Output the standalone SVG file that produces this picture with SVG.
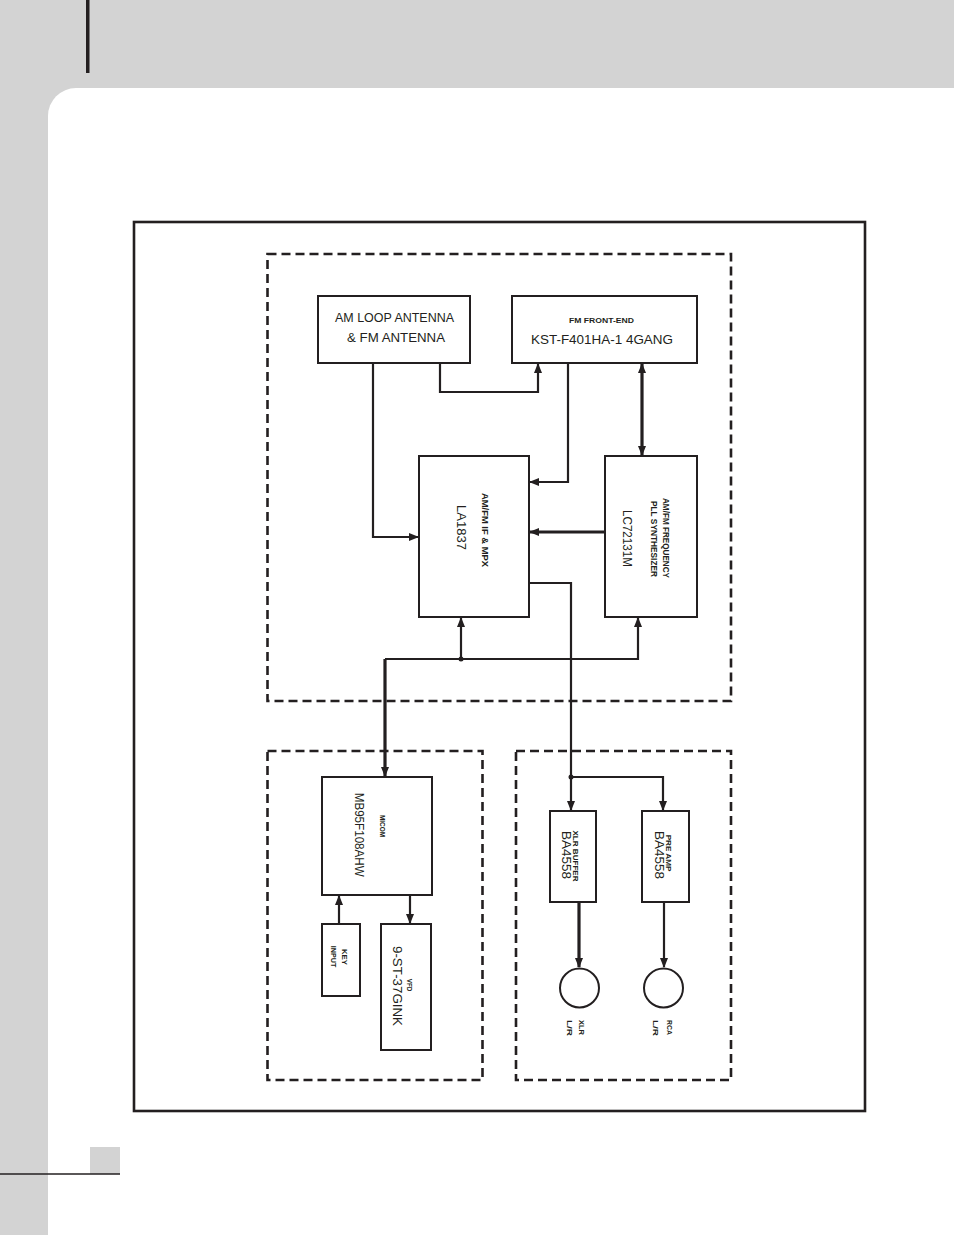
<svg xmlns="http://www.w3.org/2000/svg" width="954" height="1235" viewBox="0 0 954 1235">
<style>
.box{fill:#fff;stroke:#231f20;stroke-width:2}
.dash{fill:none;stroke:#231f20;stroke-width:2.6;stroke-dasharray:9 5}
.ln{fill:none;stroke:#231f20;stroke-width:2.2}
.thk{fill:none;stroke:#231f20;stroke-width:3.2}
.t{font-family:"Liberation Sans",Arial,sans-serif;fill:#231f20;text-anchor:middle}
.big{font-size:13.5px}
.sm{font-size:8.5px;font-weight:bold}
</style>
<defs>
<marker id="ah" markerUnits="userSpaceOnUse" markerWidth="10" markerHeight="8" refX="9" refY="4" orient="auto-start-reverse" viewBox="0 0 10 8">
<path d="M0,0 L10,4 L0,8 z" fill="#231f20"/>
</marker>
</defs>
<rect x="0" y="0" width="954" height="1235" fill="#d3d3d3"/>
<path d="M48,1235 V116 A28,28 0 0 1 76,88 H954 V1235 z" fill="#fff"/>
<rect x="86" y="0" width="3.5" height="73" fill="#231f20"/>
<rect x="90" y="1147" width="30" height="27" fill="#d3d3d3"/>
<line x1="0" y1="1174" x2="120" y2="1174" stroke="#231f20" stroke-width="1.5"/>
<rect x="134" y="222" width="731" height="889" fill="none" stroke="#231f20" stroke-width="2.6"/>
<g id="groups">
<rect class="dash" x="267.5" y="254" width="463.5" height="447"/>
<rect class="dash" x="267.5" y="751" width="215" height="329"/>
<rect class="dash" x="516" y="751" width="215" height="329"/>
</g>
<g id="connectors">
<path class="ln" d="M373,363 V537 H418" marker-end="url(#ah)"/>
<path class="ln" d="M440,363 V392 H538 V364" marker-end="url(#ah)"/>
<path class="ln" d="M568,363 V482 H530" marker-end="url(#ah)"/>
<path class="thk" d="M642,364 V455" marker-start="url(#ah)" marker-end="url(#ah)"/>
<path class="thk" d="M605,532 H530" marker-end="url(#ah)"/>
<path class="ln" d="M529,583 H571 V810" marker-end="url(#ah)"/>
<path class="ln" d="M571,777 H663 V810" marker-end="url(#ah)"/>
<circle cx="571" cy="777" r="2.5" fill="#231f20"/>
<path class="ln" d="M385,659 H638 V618" marker-end="url(#ah)"/>
<path class="ln" d="M461,659 V618" marker-end="url(#ah)"/>
<circle cx="461" cy="659" r="2.5" fill="#231f20"/>
<path class="thk" d="M385,659 V776" marker-end="url(#ah)"/>
<path class="ln" d="M339,924 V896" marker-end="url(#ah)"/>
<path class="ln" d="M410,895 V923" marker-end="url(#ah)"/>
<path class="thk" d="M579,902 V967" marker-end="url(#ah)"/>
<path class="ln" d="M664,902 V967" marker-end="url(#ah)"/>
</g>
<g id="am-antenna">
<rect class="box" x="318" y="296" width="152" height="67"/>
<text class="t big" x="394.5" y="322" textLength="119" lengthAdjust="spacingAndGlyphs">AM LOOP ANTENNA</text>
<text class="t big" x="396" y="342" textLength="98" lengthAdjust="spacingAndGlyphs">&amp; FM ANTENNA</text>
</g>
<g id="fm-frontend">
<rect class="box" x="512" y="296" width="185" height="67"/>
<text class="t sm" x="601.5" y="323" textLength="65" lengthAdjust="spacingAndGlyphs" style="font-size:7.5px">FM FRONT-END</text>
<text class="t big" x="602" y="344" textLength="142" lengthAdjust="spacingAndGlyphs">KST-F401HA-1 4GANG</text>
</g>
<g id="la1837">
<rect class="box" x="419" y="456" width="110" height="161"/>
<text class="t sm" transform="translate(481.7,530) rotate(90)" textLength="74" lengthAdjust="spacingAndGlyphs">AM/FM IF &amp; MPX</text>
<text class="t big" transform="translate(456.7,527.5) rotate(90)" textLength="45" lengthAdjust="spacingAndGlyphs">LA1837</text>
</g>
<g id="lc72131m">
<rect class="box" x="605" y="456" width="92" height="161"/>
<text class="t sm" transform="translate(662.7,538) rotate(90)" textLength="80" lengthAdjust="spacingAndGlyphs">AM/FM FREQUENCY</text>
<text class="t sm" transform="translate(650.7,539) rotate(90)" textLength="76" lengthAdjust="spacingAndGlyphs">PLL SYNTHESIZER</text>
<text class="t big" transform="translate(623,538.5) rotate(90)" textLength="57" lengthAdjust="spacingAndGlyphs">LC72131M</text>
</g>
<g id="micom">
<rect class="box" x="322" y="777" width="110" height="118"/>
<text class="t sm" transform="translate(380,826) rotate(90)" textLength="22" lengthAdjust="spacingAndGlyphs" style="font-size:7.5px">MICOM</text>
<text class="t big" transform="translate(355,834.7) rotate(90)" textLength="84" lengthAdjust="spacingAndGlyphs">MB95F108AHW</text>
</g>
<g id="key-input">
<rect class="box" x="322" y="924" width="38" height="72"/>
<text class="t sm" transform="translate(342.3,957) rotate(90)" textLength="16" lengthAdjust="spacingAndGlyphs" style="font-size:7.5px">KEY</text>
<text class="t sm" transform="translate(330.7,956.5) rotate(90)" textLength="21.6" lengthAdjust="spacingAndGlyphs" style="font-size:7.5px">INPUT</text>
</g>
<g id="vfd">
<rect class="box" x="381" y="924" width="50" height="126"/>
<text class="t sm" transform="translate(406.7,985) rotate(90)" textLength="12.7" lengthAdjust="spacingAndGlyphs" style="font-size:7.5px">VFD</text>
<text class="t big" transform="translate(393.3,986) rotate(90)" textLength="80" lengthAdjust="spacingAndGlyphs">9-ST-37GINK</text>
</g>
<g id="xlr-buffer">
<rect class="box" x="550" y="811" width="46" height="91"/>
<text class="t sm" transform="translate(573.3,856) rotate(90)" textLength="51" lengthAdjust="spacingAndGlyphs" style="font-size:7.5px">XLR BUFFER</text>
<text class="t big" transform="translate(561.7,855) rotate(90)" textLength="48" lengthAdjust="spacingAndGlyphs">BA4558</text>
</g>
<g id="pre-amp">
<rect class="box" x="642" y="811" width="47" height="91"/>
<text class="t sm" transform="translate(666,853) rotate(90)" textLength="36.7" lengthAdjust="spacingAndGlyphs" style="font-size:7.5px">PRE AMP</text>
<text class="t big" transform="translate(655,855) rotate(90)" textLength="48" lengthAdjust="spacingAndGlyphs">BA4558</text>
</g>
<g id="xlr-out">
<circle cx="579.5" cy="988" r="19.5" fill="#fff" stroke="#231f20" stroke-width="2"/>
<text class="t sm" transform="translate(579.3,1027.5) rotate(90)" textLength="15" lengthAdjust="spacingAndGlyphs" style="font-size:7.5px">XLR</text>
<text class="t sm" transform="translate(567.3,1028) rotate(90)" textLength="16" lengthAdjust="spacingAndGlyphs" style="font-size:7.5px">L/R</text>
</g>
<g id="rca-out">
<circle cx="663.5" cy="988" r="19.5" fill="#fff" stroke="#231f20" stroke-width="2"/>
<text class="t sm" transform="translate(666.7,1027.5) rotate(90)" textLength="15" lengthAdjust="spacingAndGlyphs" style="font-size:7.5px">RCA</text>
<text class="t sm" transform="translate(653.3,1028) rotate(90)" textLength="16" lengthAdjust="spacingAndGlyphs" style="font-size:7.5px">L/R</text>
</g>
</svg>
